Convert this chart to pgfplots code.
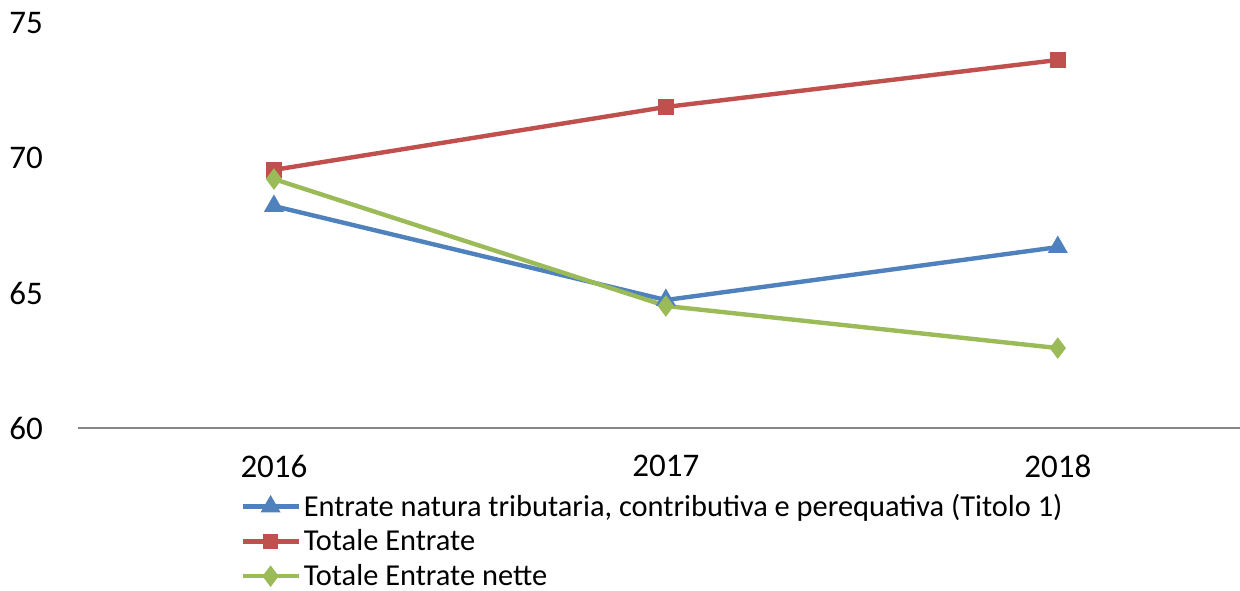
\documentclass[border=0pt]{standalone}
\usepackage{pgfplots}
\pgfplotsset{compat=1.18}
\usepackage{fontspec}
\setmainfont{Carlito}
\definecolor{cblue}{HTML}{4F81BD}
\definecolor{cred}{HTML}{C0504D}
\definecolor{cgreen}{HTML}{9BBB59}
\definecolor{caxis}{HTML}{868686}
\begin{document}
\begin{tikzpicture}
\path[use as bounding box] (-39pt,-81pt) rectangle (581pt,214pt);
\begin{axis}[
  at={(0,0)}, anchor=south west,
  scale only axis, width=581pt, height=202.5pt,
  xmin=-0.5, xmax=2.465, ymin=60, ymax=75,
  xtick={0,1,2}, xticklabels={2016,2017,2018},
  ytick={60,65,70,75},
  axis y line=none,
  axis x line*=bottom,
  x axis line style={draw=caxis, line width=0.75pt, -},
  major tick length=0pt,
  font=\fontsize{16.5}{19}\selectfont,
  ticklabel style={font=\fontsize{16.5}{19}\selectfont},
  /pgf/number format/assume math mode=true,
  xticklabel style={yshift=-10pt},
  clip=false,
  legend style={draw=none, fill=none, at={(0.1394,-0.152)}, anchor=north west,
    font=\fontsize{15.2}{18}\selectfont, row sep=1.2pt, inner sep=0pt,
    cells={anchor=west}, nodes={inner xsep=1.5pt}},
  legend cell align=left,
  legend image code/.code={\draw[mark repeat=2,mark phase=2,#1] plot coordinates {(0pt,0pt)(14pt,0pt)(28pt,0pt)};},
]
\addplot[cblue, line width=2.2pt, mark=triangle*, mark size=3.6pt, mark options={solid}] coordinates {(0,68.22) (1,64.74) (2,66.70)};
\addlegendentry{Entrate natura tributaria, contributiva e perequativa (Titolo 1)}
\addplot[cred, line width=2.2pt, mark=square*, mark size=2.8pt] coordinates {(0,69.56) (1,71.89) (2,73.63)};
\addlegendentry{Totale Entrate}
\addplot[cgreen, line width=2.2pt, mark=diamond*, mark size=3.6pt] coordinates {(0,69.22) (1,64.52) (2,62.96)};
\addlegendentry{Totale Entrate nette}
\pgfplotsinvokeforeach{60,65,70,75}{
  \node[anchor=east, font=\fontsize{16.5}{19}\selectfont] at (axis cs:-0.5,#1) [xshift=-14pt] {#1};
}
\end{axis}
\end{tikzpicture}
\end{document}
